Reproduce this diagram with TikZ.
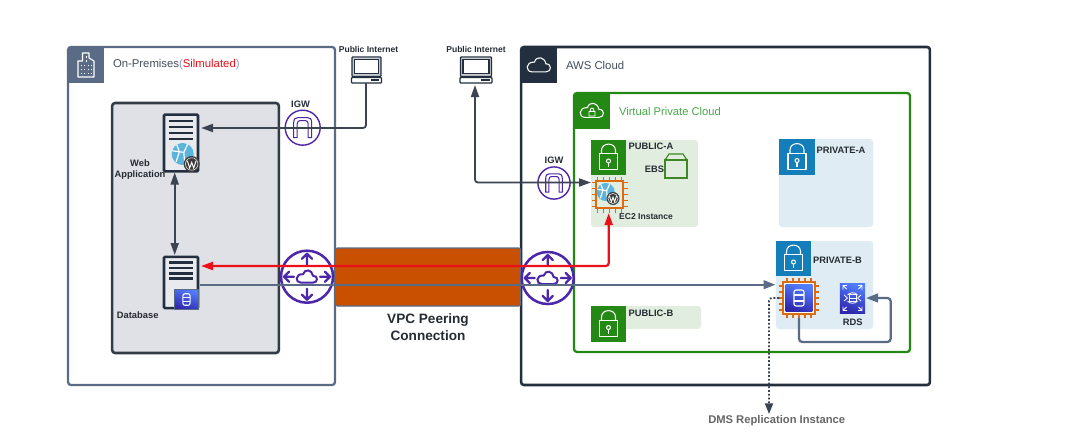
\documentclass[tikz,border=0pt]{standalone}
\usepackage{fontspec}
\setmainfont{Liberation Sans}
\usetikzlibrary{arrows.meta,calc}
\definecolor{premline}{HTML}{5A6B86}
\definecolor{awsnavy}{HTML}{232F3E}
\definecolor{greybox}{HTML}{DFE1E6}
\definecolor{greyline}{HTML}{333B47}
\definecolor{vpcgreen}{HTML}{248814}
\definecolor{vpctext}{HTML}{4AA84A}
\definecolor{pubfill}{HTML}{E1EEDF}
\definecolor{prifill}{HTML}{DFECF3}
\definecolor{priblue}{HTML}{147EBA}
\definecolor{purple}{HTML}{4D27AA}
\definecolor{orangebar}{HTML}{C85000}
\definecolor{chiporange}{HTML}{DD6B10}
\definecolor{redline}{HTML}{EC1018}
\definecolor{darkarrow}{HTML}{3B4450}
\definecolor{globeblue}{HTML}{5AB4DC}
\definecolor{wpdark}{HTML}{3C3C3C}
\definecolor{ebsgreen}{HTML}{3F8624}
\definecolor{dmsgrey}{HTML}{666666}
\definecolor{labeldark}{HTML}{262B33}
\definecolor{parengrey}{HTML}{8A9BB5}
\definecolor{blueA}{HTML}{527FFF}
\definecolor{blueB}{HTML}{2E27AD}
\tikzset{
  px/.style={inner sep=0pt,outer sep=0pt},
  frame/.style={px,draw,rounded corners=2.2pt},
  hdr/.style={px,minimum width=27pt,minimum height=27pt},
  subnet/.style={px,rounded corners=2.2pt},
  lbl/.style={px,font=\fontsize{7pt}{8pt}\selectfont\bfseries,text=labeldark},
  smalllbl/.style={px,font=\fontsize{6.4pt}{7pt}\selectfont\bfseries,text=labeldark},
  titlelbl/.style={px,anchor=west,font=\fontsize{8.5pt}{10pt}\selectfont},
  glyph/.style={draw=white,line width=.8pt,line join=round},
  darkconn/.style={draw=darkarrow,line width=1.35pt,rounded corners=2.2pt},
  greyconn/.style={draw=premline,line width=1.7pt,rounded corners=2.5pt},
  redconn/.style={draw=redline,line width=1.6pt,rounded corners=2.2pt},
  bluegrad/.style={px,bottom color=blueB,top color=blueA,shading angle=-20},
  pics/cloudglyph/.style={code={
    \draw[#1] (-6,6) -- (6,6) .. controls (11,6) and (11.5,-1) .. (6,-1)
      .. controls (5,-7) and (-2,-8.5) .. (-4,-2.5)
      .. controls (-12,-3) and (-12,6) .. (-6,6) -- cycle;
  }},
  pics/lockglyph/.style={code={
    \draw[glyph] (-9,-3.7) rectangle (9,12.3);
    \draw[glyph] (-7,-3.7) -- (-7,-7) .. controls (-7,-15.5) and (7,-15.5) .. (7,-7) -- (7,-3.7);
    \draw[glyph] (0,3.5) circle (2);
    \draw[glyph] (0,5.5) -- (0,9.5);
  }},
  pics/buildingglyph/.style={code={
    \draw[glyph] (-8,12) -- (-8,-4) -- (-3.5,-4) -- (-3.5,-12) -- (3,-12) -- (3,-7) -- (8,-4) -- (8,12) -- cycle;
    \foreach \wx in {-5.5,-2,1.5,5}{\foreach \wy in {-.5,3.5,7.5}{
      \fill[white] (\wx,\wy) rectangle ++(1,1.8);}}
    \foreach \wy in {-9,-5}{\fill[white] (-.5,\wy) rectangle ++(1,1.8);}
  }},
  pics/routerglyph/.style={code={
    \draw[purple,line width=1.9pt,fill=white] (0,0) circle (26);
    \begin{scope}[purple,line width=1.7pt,line cap=round,line join=round]
      \draw (0,-12) -- (0,-23) (-5,-18) -- (0,-23) -- (5,-18);
      \draw (0,12) -- (0,23) (-5,18) -- (0,23) -- (5,18);
      \draw (-13,0) -- (-23,0) (-18,-5) -- (-23,0) -- (-18,5);
      \draw (13,0) -- (23,0) (18,-5) -- (23,0) -- (18,5);
    \end{scope}
    \pic {cloudglyph={purple,line width=1.5pt}};
  }},
  pics/igwglyph/.style={code={
    \draw[purple,line width=1.05pt,fill=white] (0,0) circle (#1);
    \begin{scope}[purple,line width=.8pt]
      \draw (-9,10) -- (-9,-5) .. controls (-9,-9) and (-7,-10) .. (-5,-10) -- (5,-10) .. controls (7,-10) and (9,-9) .. (9,-5) -- (9,10) -- (5.5,10) -- (5.5,-4) .. controls (5.5,-6) and (4,-7) .. (3,-7) -- (-3,-7) .. controls (-4,-7) and (-5.5,-6) .. (-5.5,-4) -- (-5.5,10) -- cycle;
    \end{scope}
  }},
  pics/serverbars/.style={code={
    \foreach \by in {#1}{\fill[awsnavy] (-12,\by-1.4) rectangle (12,\by+1.4);}
  }},
  pics/globeglyph/.style={code={
    \fill[globeblue] (0,0) circle (#1);
    \begin{scope}
      \clip (0,0) circle (#1);
      \draw[white,line width=.9pt] (-#1,-.3*#1) -- (.1*#1,-.15*#1) -- (.5*#1,-#1);
      \draw[white,line width=.9pt] (.1*#1,-.15*#1) -- (.2*#1,#1);
      \draw[white,line width=.9pt] (-.6*#1,-#1) -- (-.3*#1,-.2*#1) -- (-.6*#1,.7*#1);
    \end{scope}
  }},
  pics/wpglyph/.style={code={
    \fill[wpdark] (0,0) circle (#1);
    \draw[white,line width=.35pt] (0,0) circle (.78*#1);
    \draw[white,line width=.7pt] (-.55*#1,-.4*#1) -- (-.25*#1,.5*#1) -- (0,-.2*#1) -- (.25*#1,.5*#1) -- (.55*#1,-.4*#1);
  }},
  pics/chippins/.style={code={
    \foreach \pp in {-12,-6,0,6,12}{
      \draw[chiporange,line width=1.1pt] (\pp,-#1) -- (\pp,-#1-4) (\pp,#1) -- (\pp,#1+4)
        (-#1,\pp) -- (-#1-4,\pp) (#1,\pp) -- (#1+4,\pp);}
  }},
  pics/dbglyph/.style={code={
    \draw[glyph,rounded corners=1.5pt] (-5,-8) rectangle (5,8);
    \draw[glyph] (-5,-3) -- (5,-3) (-5,3) -- (5,3);
  }},
  pics/rdsglyph/.style={code={
    \draw[glyph,line width=.6pt] (-5,-3) .. controls (-3,-6) and (3,-6) .. (5,-3) (-5,3) .. controls (-3,6) and (3,6) .. (5,3);
    \draw[glyph,line width=.6pt] (-3.5,-3.5) rectangle (3.5,3.5) (-3.5,0) -- (3.5,0);
    \draw[glyph,line width=.6pt] (-5,0) -- (-8.5,-3) (-5,0) -- (-8.5,3) (5,0) -- (8.5,-3) (5,0) -- (8.5,3);
    \foreach \sx in {-1,1}{\foreach \sy in {-1,1}{
      \draw[glyph,line width=.6pt] (\sx*6,\sy*9) -- (\sx*9.5,\sy*12.5) (\sx*9.5,\sy*8.5) -- (\sx*9.5,\sy*12.5) -- (\sx*5.5,\sy*12.5);}}
  }},
  pics/laptopglyph/.style={code={
    \fill[awsnavy!25] (-15,-12.5) rectangle (15,6);
    \draw[awsnavy,line width=1pt,rounded corners=.6pt] (-15.5,-13) rectangle (15.5,6.5);
    \draw[awsnavy,line width=.9pt,fill=white] (-13,-10.5) rectangle (13,3.5);
    \draw[awsnavy,line width=1pt,fill=white,rounded corners=.6pt] (-16,7.5) rectangle (16,13);
    \fill[awsnavy] (4.5,9.4) rectangle (13.5,11);
  }},
  pics/ebsglyph/.style={code={
    \draw[ebsgreen,line width=.9pt] (-11,-6) rectangle (11,12);
    \draw[ebsgreen,line width=.9pt] (-11,-6) -- (-7,-12) -- (7,-12) -- (11,-6);
  }}
}
\begin{document}
\begin{tikzpicture}[x=.75pt,y=-.75pt,every node/.style={px}]
\useasboundingbox (0,0) rectangle (1070,446);
\fill[white] (0,0) rectangle (1070,446);
% containers
\node[frame,draw=premline,line width=1.7pt,minimum width=200.2pt,minimum height=253.5pt] (prem) at (201.5,216) {};
\node[hdr,fill=premline] (premhdr) at (86,65) {};
\pic at (premhdr) {buildingglyph};
\node[titlelbl,text=awsnavy!85] (premtitle) at (113,65) {On-Premises{\color{parengrey}(}{\color{redline}Silmulated}{\color{parengrey})}};
\node[frame,draw=greyline,fill=greybox,line width=1.9pt,minimum width=125pt,minimum height=187.5pt] (grey) at (195.5,228) {};
\node[frame,draw=awsnavy,line width=1.9pt,minimum width=306.7pt,minimum height=253.5pt] (aws) at (725.5,216) {};
\node[hdr,fill=awsnavy] (awshdr) at (539,65) {};
\pic[scale=1.15] at (awshdr) {cloudglyph={draw=white,line width=.8pt}};
\node[titlelbl,text=awsnavy!85] (awstitle) at (566,65) {AWS Cloud};
\node[frame,draw=vpcgreen,line width=1.7pt,minimum width=252pt,minimum height=194.2pt] (vpc) at (742,222.5) {};
\node[hdr,fill=vpcgreen] (vpchdr) at (592,110.5) {};
\pic[scale=1.15] at (vpchdr) {cloudglyph={draw=white,line width=.8pt}};
\draw[white,line width=.7pt] (589,111.5) rectangle (595,116) (590,111.5) .. controls (590,107) and (594,107) .. (594,111.5);
\node[titlelbl,text=vpctext,font=\fontsize{8.4pt}{10pt}\selectfont] (vpctitle) at (619,111) {Virtual Private Cloud};
% subnets
\node[subnet,fill=pubfill,minimum width=80.2pt,minimum height=65.2pt] (puba) at (644.5,183.5) {};
\node[subnet,fill=prifill,minimum width=70.5pt,minimum height=66pt] (pria) at (826,183) {};
\node[subnet,fill=prifill,minimum width=72.8pt,minimum height=66pt] (prib) at (824.5,285) {};
\node[subnet,fill=pubfill,minimum width=82.5pt,minimum height=17.2pt] (pubb) at (646,317.5) {};
\node[hdr,fill=vpcgreen,minimum width=26.3pt,minimum height=26.3pt] (lockpa) at (608.5,157.5) {};
\pic at (lockpa) {lockglyph};
\node[hdr,fill=priblue,minimum width=27pt,minimum height=26.3pt] (lockpra) at (797,157) {};
\pic at (lockpra) {lockglyph};
\node[hdr,fill=priblue,minimum width=26.3pt,minimum height=26.3pt] (lockprb) at (793.5,258.5) {};
\pic at (lockprb) {lockglyph};
\node[hdr,fill=vpcgreen,minimum width=26.3pt,minimum height=27pt] (lockpb) at (608.5,324) {};
\pic at (lockpb) {lockglyph};
\node[lbl] (lpa) at (651,146) {PUBLIC-A};
\node[lbl] (lpra) at (841,150) {PRIVATE-A};
\node[lbl] (lprb) at (837.5,260) {PRIVATE-B};
\node[lbl] (lpb) at (651,313) {PUBLIC-B};
% EBS
\node[minimum width=16.5pt,minimum height=18pt] (ebs) at (676,166) {};
\pic at (ebs) {ebsglyph};
\node[lbl] (ebslbl) at (654.5,169) {EBS};
% EC2 in public A
\node[px,draw=chiporange,line width=1.6pt,fill=pubfill,minimum width=20.5pt,minimum height=20.5pt] (ec2) at (609.5,194.5) {};
\pic at (ec2) {chippins=14};
\pic at (605.7,192) {globeglyph=9};
\pic at (613,198.5) {wpglyph=6.5};
\node[smalllbl] (ec2lbl) at (646,217) {EC2 Instance};
% Chip in private B
\node[px,draw=chiporange,line width=1.6pt,fill=white,minimum width=23.5pt,minimum height=23.5pt] (dbchip) at (799,298) {};
\pic at (dbchip) {chippins=16};
\node[bluegrad,minimum width=20pt,minimum height=20pt] (dbchipin) at (799,298) {};
\pic at (dbchipin) {dbglyph};
\node[bluegrad,minimum width=18.8pt,minimum height=22.5pt] (rds) at (852.5,298) {};
\pic at (rds) {rdsglyph};
\node[lbl] (rdslbl) at (852.7,322) {RDS};
% servers
\node[px,draw=awsnavy,line width=1.9pt,fill=greybox!70!white,rounded corners=.8pt,minimum width=25.5pt,minimum height=42.5pt] (web) at (181,143) {};
\pic at (181,0) {serverbars={121,127,133,139}};
\pic at (182.7,154) {globeglyph=11};
\pic at (191.7,164) {wpglyph=8};
\node[lbl] (weblbl) at (140,170) {\begin{tabular}{@{}c@{}}Web\\[.5pt]Application\end{tabular}};
\node[px,draw=awsnavy,line width=1.9pt,fill=greybox!70!white,rounded corners=.8pt,minimum width=25.5pt,minimum height=38.5pt] (db) at (181,282.5) {};
\pic at (181,0) {serverbars={262.5,268,273.5,278.5}};
\node[bluegrad,draw=premline,line width=.7pt,minimum width=18.5pt,minimum height=15.5pt] (dbicon) at (186.5,299.5) {};
\pic[scale=.72] at (dbicon) {dbglyph};
\node[lbl] (dblbl) at (137.7,315) {Database};
% peering
\node[px,draw=premline,line width=.8pt,fill=orangebar,rounded corners=1.5pt,minimum width=139pt,minimum height=43.5pt] (peer) at (428,277) {};
\node[px,font=\fontsize{10.2pt}{12.6pt}\selectfont\bfseries,text=labeldark,align=center] (peerlbl) at (428,327.5) {VPC Peering\\Connection};
\node[minimum width=39pt,minimum height=39pt] (routerL) at (307,276.7) {};
\pic at (routerL) {routerglyph};
\node[minimum width=39pt,minimum height=39pt] (routerR) at (547.7,278) {};
\pic at (routerR) {routerglyph};
% IGW
\node[minimum width=26pt,minimum height=26pt] (igwL) at (302.7,127.7) {};
\pic at (igwL) {igwglyph=17.5};
\node[lbl] (igwLl) at (300.5,104.5) {IGW};
\node[minimum width=24pt,minimum height=24pt] (igwR) at (554,183) {};
\pic[scale=.92] at (igwR) {igwglyph=17.5};
\node[lbl] (igwRl) at (554,160) {IGW};
% laptops
\node[minimum width=23pt,minimum height=19.5pt] (lapL) at (366.5,70) {};
\pic[xscale=.94] at (lapL) {laptopglyph};
\node[smalllbl,font=\fontsize{6.4pt}{7pt}\selectfont\bfseries] (lapLl) at (368.5,49) {Public Internet};
\node[minimum width=24pt,minimum height=19.5pt] (lapR) at (476,70) {};
\pic at (lapR) {laptopglyph};
\node[smalllbl,font=\fontsize{6.4pt}{7pt}\selectfont\bfseries] (lapRl) at (476,49) {Public Internet};
% connector ports
\coordinate (webport) at (201,128);
\coordinate (lapRport) at (475,85);
\coordinate (ec2port) at (591,182.5);
\coordinate (webbot) at (174.7,172.5);
\coordinate (dbtop) at (174.7,255);
\coordinate (dbred) at (201,266);
\coordinate (ec2red) at (608.7,213);
\coordinate (dbgrey) at (199.5,284.7);
\coordinate (chipgrey) at (775.5,284.7);
\coordinate (chipbot) at (799,318);
\coordinate (rdsright) at (866,298);
\coordinate (chipleft) at (779,298);
\coordinate (dmsport) at (769,414);
% connectors
\draw[darkconn,-{Triangle[length=9pt,width=6pt]}] (lapL.south -| 366,83) |- (webport);
\draw[darkconn,{Triangle[length=9pt,width=6pt]}-{Triangle[length=9pt,width=6pt]}] (lapRport) |- (ec2port);
\draw[darkconn,{Triangle[length=9pt,width=6pt]}-{Triangle[length=9pt,width=6pt]}] (webbot) -- (dbtop);
\draw[redconn,{Triangle[length=9pt,width=6pt]}-{Triangle[length=9pt,width=6pt]}] (ec2red) |- (dbred);
\draw[greyconn,-{Triangle[length=9pt,width=6.5pt]}] (dbgrey) -- (chipgrey);
\draw[greyconn] (chipbot) -- ++(0,24) -- ++(91.7,0) -- ++(0,-44) -- ($(rdsright)+(8,0)$);
\draw[draw=premline,-{Triangle[length=9pt,width=6.5pt]},line width=1.7pt] ($(rdsright)+(9,0)$) -- (rdsright);
\draw[draw=darkarrow,line width=1.35pt,dash pattern=on 1.4pt off 1.4pt,rounded corners=2pt,-{Triangle[length=8pt,width=6pt]}] (chipleft) -| (dmsport);
\node[px,font=\fontsize{8.4pt}{10pt}\selectfont\bfseries,text=dmsgrey] (dmslbl) at (776.7,420.5) {DMS Replication Instance};
\end{tikzpicture}
\end{document}
